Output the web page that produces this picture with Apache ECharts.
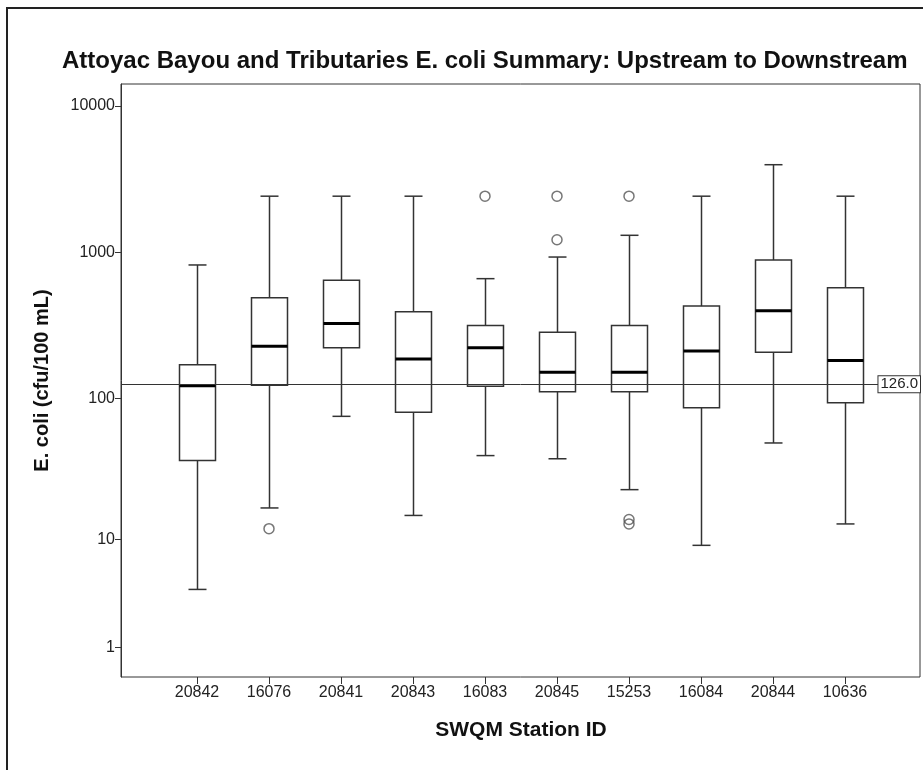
<!DOCTYPE html>
<html>
<head>
<meta charset="utf-8">
<title>Attoyac Bayou E. coli Summary</title>
<script src="https://cdn.jsdelivr.net/npm/echarts@6/dist/echarts.min.js"></script>
<style>
html, body { margin: 0; padding: 0; background: #fff; }
#chart { width: 923px; height: 770px; }
</style>
</head>
<body>
<div id="chart"></div>
<script>
// stations, upstream to downstream
const stations = ['20842', '16076', '20841', '20843', '16083', '20845', '15253', '16084', '20844', '10636'];
// box plot stats (cfu/100 mL)
const whiskerLow = [4, 17, 75, 15, 40, 38, 23, 9, 49, 13];
const q1 = [37, 123, 222, 80, 121, 111, 111, 86, 207, 93];
const median = [122, 228, 326, 186, 222, 151, 151, 211, 399, 182];
const q3 = [170, 490, 644, 393, 316, 284, 316, 429, 886, 573];
const whiskerHigh = [820, 2420, 2420, 2420, 661, 929, 1308, 2420, 3970, 2420];
// outliers
const outlierStation = ['16076', '16083', '20845', '20845', '15253', '15253', '15253'];
const outlierValue = [12, 2420, 2420, 1220, 2420, 14, 13];
// y axis
const yTickValues = [1, 10, 100, 1000, 10000];
const criterion = 126.0;

// SPSS "safe log" scale: log10(x + 1)
function safeLog(v) {
    return Math.log10(v + 1);
}

const yMin = 0.101;
const yMax = 4.15;
const font = '"Liberation Sans", Arial, sans-serif';

const boxData = stations.map(function(s, i) {
    return [i, safeLog(whiskerLow[i]), safeLog(q1[i]), safeLog(median[i]), safeLog(q3[i]), safeLog(whiskerHigh[i])];
});
const outlierData = outlierStation.map(function(s, k) {
    return [s, safeLog(outlierValue[k])];
});

function renderBox(params, api) {
    const i = api.value(0);
    const pLow = api.coord([i, api.value(1)]);
    const pQ1 = api.coord([i, api.value(2)]);
    const pMed = api.coord([i, api.value(3)]);
    const pQ3 = api.coord([i, api.value(4)]);
    const pHigh = api.coord([i, api.value(5)]);
    const half = api.size([1, 0])[0] * 0.25;
    const cap = half / 2;
    const x = Math.round(pMed[0]) + 0.5;
    const line = { stroke: '#333', lineWidth: 1.5 };
    return {
        type: 'group',
        children: [
            { type: 'line', shape: { x1: x, y1: pHigh[1], x2: x, y2: pQ3[1] }, style: line },
            { type: 'line', shape: { x1: x, y1: pQ1[1], x2: x, y2: pLow[1] }, style: line },
            { type: 'line', shape: { x1: x - cap, y1: pHigh[1], x2: x + cap, y2: pHigh[1] }, style: line },
            { type: 'line', shape: { x1: x - cap, y1: pLow[1], x2: x + cap, y2: pLow[1] }, style: line },
            {
                type: 'rect',
                shape: { x: x - half, y: pQ3[1], width: half * 2, height: pQ1[1] - pQ3[1] },
                style: { fill: 'none', stroke: '#333', lineWidth: 1.5 }
            },
            { type: 'line', shape: { x1: x - half, y1: pMed[1], x2: x + half, y2: pMed[1] }, style: { stroke: '#000', lineWidth: 3 } }
        ]
    };
}

const myChart = echarts.init(document.getElementById('chart'));
const option = {
    animation: false,
    backgroundColor: '#fff',
    title: {
        text: 'Attoyac Bayou and Tributaries E. coli Summary: Upstream to Downstream',
        left: 57,
        top: 44,
        textStyle: { fontFamily: font, fontSize: 24, fontWeight: 'bold', color: '#111' }
    },
    graphic: [{
        // outer frame of the picture
        type: 'rect',
        shape: { x: 7, y: 8, width: 1000, height: 1000 },
        style: { fill: 'none', stroke: '#222', lineWidth: 2 },
        silent: true
    }],
    grid: [
        { left: 121, top: 84, width: 799, height: 593, show: true, borderColor: '#333', borderWidth: 1 },
        { left: 161, top: 84, width: 720, height: 593 }
    ],
    xAxis: [{
        gridIndex: 1,
        type: 'category',
        data: stations,
        boundaryGap: true,
        axisLine: { show: false },
        axisTick: { show: true, alignWithLabel: true, length: 7, lineStyle: { color: '#333' } },
        axisLabel: { fontFamily: font, fontSize: 16, color: '#222', margin: 8 },
        name: 'SWQM Station ID',
        nameLocation: 'middle',
        nameGap: 43,
        nameTextStyle: { fontFamily: font, fontSize: 21, fontWeight: 'bold', color: '#111' }
    }, {
        gridIndex: 0,
        type: 'value',
        min: 0,
        max: 1,
        show: false
    }],
    yAxis: [{
        gridIndex: 0,
        type: 'value',
        min: yMin,
        max: yMax,
        axisLine: { show: true, lineStyle: { color: '#333' } },
        axisTick: { show: true, length: 6, customValues: yTickValues.map(safeLog), lineStyle: { color: '#333' } },
        axisLabel: {
            fontFamily: font,
            fontSize: 16,
            color: '#222',
            margin: 6,
            customValues: yTickValues.map(safeLog),
            formatter: function(v) {
                return String(Math.round(Math.pow(10, v) - 1));
            }
        },
        splitLine: { show: false },
        name: 'E. coli (cfu/100 mL)',
        nameLocation: 'middle',
        nameGap: 69,
        nameTextStyle: { fontFamily: font, fontSize: 20, fontWeight: 'bold', color: '#111' }
    }, {
        gridIndex: 1,
        type: 'value',
        min: yMin,
        max: yMax,
        show: false
    }],
    series: [{
        type: 'line',
        xAxisIndex: 1,
        yAxisIndex: 0,
        data: [],
        silent: true,
        markLine: {
            silent: true,
            symbol: 'none',
            lineStyle: { color: '#333', width: 1, type: 'solid' },
            label: {
                show: true,
                position: 'insideEnd',
                distance: 0,
                formatter: criterion.toFixed(1),
                fontFamily: font,
                fontSize: 15,
                color: '#222',
                backgroundColor: '#fff',
                borderColor: '#333',
                borderWidth: 1,
                padding: [1, 2, 0, 2]
            },
            data: [{ yAxis: safeLog(criterion) }]
        }
    }, {
        type: 'custom',
        xAxisIndex: 0,
        yAxisIndex: 1,
        renderItem: renderBox,
        encode: { x: 0, y: [1, 2, 3, 4, 5] },
        data: boxData,
        z: 3
    }, {
        type: 'scatter',
        xAxisIndex: 0,
        yAxisIndex: 1,
        symbol: 'circle',
        symbolSize: 10,
        itemStyle: { color: 'rgba(0,0,0,0)', borderColor: '#555', borderWidth: 1.5 },
        data: outlierData,
        z: 4
    }]
};
myChart.setOption(option);
</script>
</body>
</html>
